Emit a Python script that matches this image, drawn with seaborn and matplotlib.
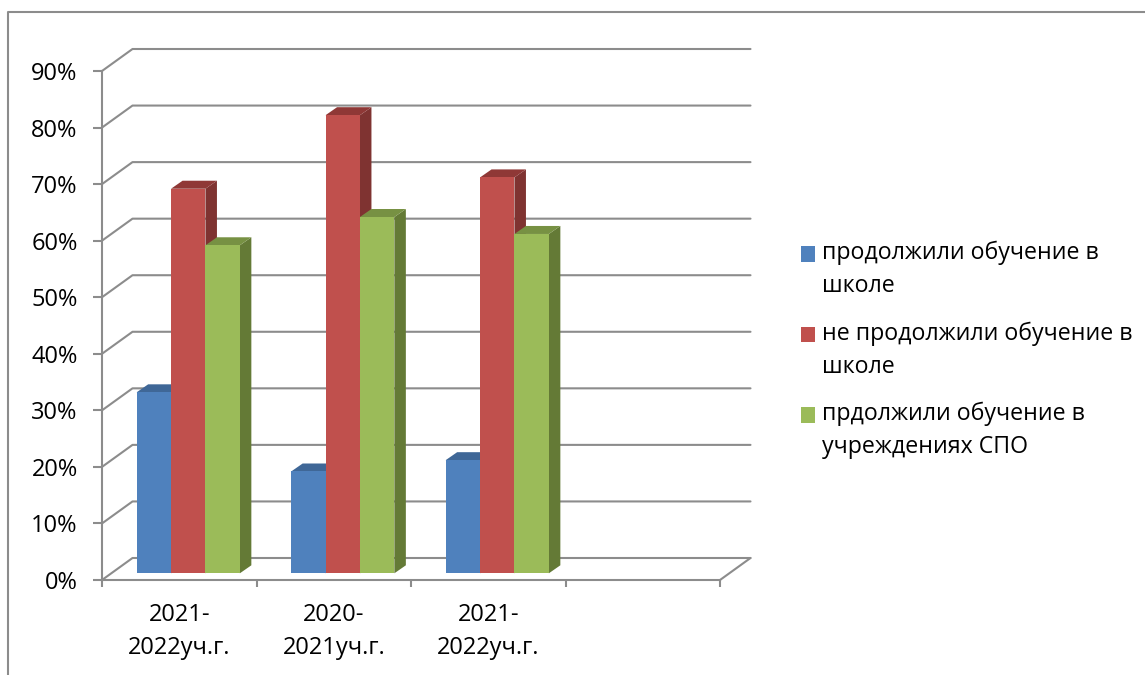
import matplotlib
matplotlib.use("Agg")
import matplotlib.pyplot as plt
import seaborn as sns
import pandas as pd
from matplotlib.patches import Polygon, Patch
from matplotlib.lines import Line2D
from matplotlib.transforms import Affine2D

# ---- data ----
periods = ["2021-\n2022уч.г.", "2020-\n2021уч.г.", "2021-\n2022уч.г.", ""]
series_names = ["продолжили обучение в\nшколе",
                "не продолжили обучение в\nшколе",
                "прдолжили обучение в\nучреждениях СПО"]
stayed = [32, 18, 20]
left = [68, 81, 70]
college = [58, 63, 60]
y_ticks = [0, 10, 20, 30, 40, 50, 60, 70, 80, 90]

front_colors = ["#4f81bd", "#c0504d", "#9bbb59"]
side_colors = ["#3a5f8b", "#7f3331", "#647a36"]
top_colors = ["#3f6797", "#8f3836", "#779143"]
LINE = "#8c8c8c"
FS = 17
LEG_FS = 16.7

sns.set_theme(style="white")
plt.rcParams["font.family"] = ["Open Sans", "DejaVu Sans"]

W, H = 1145, 675
fig = plt.figure(figsize=(W / 100, H / 100), dpi=100, facecolor="white")
ax = fig.add_axes([102 / W, (H - 580) / H, 618 / W, 509 / H])

rows = []
for i in range(3):
    rows.append((i, series_names[0], stayed[i]))
    rows.append((i, series_names[1], left[i]))
    rows.append((i, series_names[2], college[i]))
df = pd.DataFrame(rows, columns=["group", "series", "value"])

sns.barplot(data=df, x="group", y="value", hue="series", order=[0, 1, 2, 3],
            hue_order=series_names, palette=front_colors, saturation=1,
            width=0.668, gap=0, legend=False, ax=ax, zorder=3)

ax.set_xlim(-0.5, 3.5)
ax.set_ylim(0, 90)
px_x = 618 / 4      # pixels per category
px_y = 509 / 90     # pixels per percent

# wall grid, in data units with an oblique depth
wall_dx, wall_dy = 30.5 / px_x, 22 / px_y
for v in y_ticks:
    ax.plot([-0.5, -0.5 + wall_dx, 3.5 + wall_dx],
            [v, v + wall_dy, v + wall_dy],
            color=LINE, lw=1.5, clip_on=False, zorder=1, solid_joinstyle="round")
ax.plot([3.5, 3.5 + wall_dx], [0, wall_dy], color=LINE, lw=1.5, clip_on=False, zorder=1)

# bars: shift off the front edge of the floor and add the oblique faces
shift = ax.transData + Affine2D().translate(9.0, 6.7)
bar_dx, bar_dy = 11.5 / px_x, 8 / px_y
n = len(stayed)
for k, p in enumerate(list(ax.patches)):
    s = k // n
    x0, w, h = p.get_x(), p.get_width(), p.get_height()
    if not h == h or h == 0:
        continue
    x1 = x0 + w
    p.set_transform(shift)
    p.set_clip_on(False)
    p.set_linewidth(0)
    p.set_zorder(3 + s + 0.2)
    ax.add_patch(Polygon([(x1, 0), (x1 + bar_dx, bar_dy), (x1 + bar_dx, h + bar_dy), (x1, h)],
                         closed=True, facecolor=side_colors[s], edgecolor="none",
                         transform=shift, clip_on=False, zorder=3 + s))
    ax.add_patch(Polygon([(x0, h), (x0 + bar_dx, h + bar_dy), (x1 + bar_dx, h + bar_dy), (x1, h)],
                         closed=True, facecolor=top_colors[s], edgecolor="none",
                         transform=shift, clip_on=False, zorder=3 + s + 0.1))

# axes
sns.despine(ax=ax)
for name in ("left", "bottom"):
    ax.spines[name].set_color(LINE)
    ax.spines[name].set_linewidth(1.5)
    ax.spines[name].set_zorder(2)
ax.set_xlabel("")
ax.set_ylabel("")
ax.set_yticks(y_ticks)
ax.set_yticklabels([f"{v}%" for v in y_ticks], fontsize=FS, color="black")
ax.tick_params(axis="y", length=6.5, width=1.5, color=LINE, pad=11, left=True)
ax.set_xticks([-0.5, 0.5, 1.5, 2.5, 3.5])
ax.set_xticklabels([])
ax.tick_params(axis="x", which="major", length=5, width=1.5, color=LINE, bottom=True)
ax.set_xticks(range(len(periods)), periods, minor=True, fontsize=FS, color="black")
ax.tick_params(axis="x", which="minor", length=0, pad=16.5, bottom=False)
for t in ax.get_xticklabels(minor=True):
    t.set_linespacing(1.5)
    t.set_ha("center")

# legend
handles = [Patch(facecolor=c, edgecolor="none") for c in front_colors]
leg = ax.legend(handles, series_names, loc="upper left", frameon=False,
                bbox_to_anchor=(800.5 / W, (H - 241) / H), bbox_transform=fig.transFigure,
                fontsize=LEG_FS, handlelength=0.645, handleheight=0.645, handletextpad=0.3,
                labelspacing=1.0, borderpad=0, borderaxespad=0)
for t in leg.get_texts():
    t.set_linespacing(1.5)
    t.set_color("black")
for h_ in leg.get_patches():
    h_.set_y(h_.get_y() + 12.0)

# outer chart frame (open at right and bottom)
fig.add_artist(Line2D([8 / W, 8 / W, 1], [0, (H - 12) / H, (H - 12) / H],
                      transform=fig.transFigure, color=LINE, lw=1.5))

fig.savefig("out.png", dpi=100)
